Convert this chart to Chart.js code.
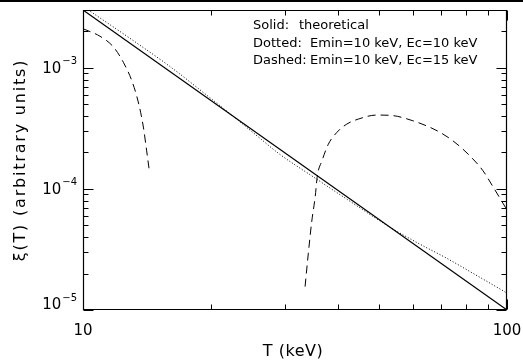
<!DOCTYPE html>
<html><head><meta charset="utf-8">
<script src="https://cdn.jsdelivr.net/npm/chart.js@4.4.0/dist/chart.umd.min.js"></script>
<style>
html,body{margin:0;padding:0;background:#fff;}
canvas{display:block;}
</style></head><body>
<canvas id="c" width="523" height="364"></canvas>
<script>
// ---- data ----
const solidT  = [10, 100];
const solidXi = [3.0e-3, 1.0e-5];

const dottedT  = [10, 13, 16, 20, 22.6, 26, 29, 35, 42, 53, 62, 72, 85, 100];
const dottedXi = [3.21e-3, 1.72e-3, 1.03e-3, 5.60e-4, 3.98e-4, 2.66e-4, 1.95e-4, 1.25e-4, 8.18e-5, 4.82e-5, 3.53e-5, 2.68e-5, 1.92e-5, 1.38e-5];

const dashedLowT  = [10, 10.97, 11.79, 12.45, 13.03, 13.5, 13.88, 14.13, 14.31];
const dashedLowXi = [2.1e-3, 1.82e-3, 1.49e-3, 1.11e-3, 7.85e-4, 5.22e-4, 3.24e-4, 2.06e-4, 1.48e-4];

const dashedHighT  = [33.4, 34.0, 34.6, 35.3, 35.7, 36.6, 37.9, 39.7, 41.9, 44.6, 49.3, 53.0, 60.0, 68.4, 74.6, 81.8, 87.8, 92.7, 100];
const dashedHighXi = [1.56e-5, 2.95e-5, 5.24e-5, 8.71e-5, 1.28e-4, 1.70e-4, 2.34e-4, 2.93e-4, 3.43e-4, 3.77e-4, 4.07e-4, 4.05e-4, 3.65e-4, 3.02e-4, 2.49e-4, 1.87e-4, 1.41e-4, 1.04e-4, 6.7e-5];

const xMajorTicks = [10, 100];
const xMinorTicks = [20, 30, 40, 50, 60, 70, 80, 90];
const yMajorExp   = [-5, -4, -3];
const xRange = [10, 100];
const yRange = [1e-5, 3e-3];

const legendLines = [
  ["Solid:", "theoretical"],
  ["Dotted:", "Emin=10 keV, Ec=10 keV"],
  ["Dashed:", "Emin=10 keV, Ec=15 keV"]
];
const xTitle = "T (keV)";
const yTitle = "\u03BE(T) (arbitrary units)";

// ---- build chart ----
const pts = (xs, ys) => xs.map((x, i) => ({x: x, y: ys[i]}));
const FONT = "'DejaVu Sans', sans-serif";

const framePlugin = {
  id: 'frame',
  afterDraw(chart) {
    const ctx = chart.ctx;
    const a = chart.chartArea;
    const xs = chart.scales.x, ys = chart.scales.y;
    ctx.save();
    ctx.fillStyle = '#000';
    ctx.fillRect(0, 0, chart.width, 2);
    ctx.strokeStyle = '#000';
    ctx.lineWidth = 1.2;
    const L = Math.round(a.left) + 0.5, R = Math.round(a.right) - 0.5;
    const T = Math.round(a.top) + 0.5, B = Math.round(a.bottom) - 0.5;
    ctx.beginPath();
    ctx.moveTo(L, T); ctx.lineTo(R, T); ctx.lineTo(R, B); ctx.lineTo(L, B); ctx.closePath();
    ctx.stroke();
    ctx.lineWidth = 1;
    const xt = (v, len) => {
      const px = Math.round(xs.getPixelForValue(v)) + 0.5;
      ctx.beginPath();
      ctx.moveTo(px, B); ctx.lineTo(px, B - len);
      ctx.moveTo(px, T); ctx.lineTo(px, T + len);
      ctx.stroke();
    };
    xMajorTicks.forEach(v => xt(v, 10));
    xMinorTicks.forEach(v => xt(v, 5));
    const yt = (v, len) => {
      const py = Math.round(ys.getPixelForValue(v)) + 0.5;
      ctx.beginPath();
      ctx.moveTo(L, py); ctx.lineTo(L + len, py);
      ctx.moveTo(R, py); ctx.lineTo(R - len, py);
      ctx.stroke();
    };
    yMajorExp.forEach(e => {
      yt(Math.pow(10, e), 10);
      for (let m = 2; m <= 9; m++) {
        const v = m * Math.pow(10, e);
        if (v <= yRange[1] * 1.0001) yt(v, 5);
      }
    });
    ctx.fillStyle = '#000';
    ctx.font = "15px " + FONT;
    ctx.textAlign = 'center';
    ctx.textBaseline = 'middle';
    xMajorTicks.forEach(v => {
      ctx.fillText(String(v), xs.getPixelForValue(v), 331);
    });
    yMajorExp.forEach((e, i) => {
      const py = ys.getPixelForValue(Math.pow(10, e));
      const cy = (i === 0) ? py - 5 : py + 1;
      const sup = "\u2212" + String(-e);
      ctx.font = "15px " + FONT;
      const w1 = ctx.measureText("10").width;
      ctx.font = "10px " + FONT;
      const w2 = ctx.measureText(sup).width;
      const x0 = 77 - w1 - w2 - 1;
      ctx.textAlign = 'left';
      ctx.font = "15px " + FONT;
      ctx.fillText("10", x0, cy);
      ctx.font = "10px " + FONT;
      ctx.fillText(sup, x0 + w1 + 1, cy - 7);
    });
    // axis titles
    ctx.font = "16px " + FONT;
    ctx.textAlign = 'center';
    ctx.letterSpacing = '0.5px';
    ctx.fillText(xTitle, 293, 352);
    ctx.save();
    ctx.translate(21, 160);
    ctx.rotate(-Math.PI / 2);
    ctx.font = "16px " + FONT;
    ctx.letterSpacing = '1.8px';
    ctx.fillText(yTitle, 0, 0);
    ctx.restore();
    ctx.letterSpacing = '0px';
    // legend text
    ctx.font = "13px " + FONT;
    ctx.textAlign = 'left';
    const ly = [26, 44, 61];
    const lx2 = [299, 310, 310];
    legendLines.forEach((ln, i) => {
      ctx.fillText(ln[0], 253, ly[i]);
      ctx.fillText(ln[1], lx2[i], ly[i]);
    });
    ctx.restore();
  }
};

new Chart(document.getElementById('c'), {
  type: 'line',
  data: {
    datasets: [
      { label: 'Solid: theoretical', data: pts(solidT, solidXi), borderColor: '#000', borderWidth: 1.2, pointRadius: 0, fill: false },
      { label: 'Dotted: Emin=10 keV, Ec=10 keV', data: pts(dottedT, dottedXi), borderColor: '#000', borderWidth: 1, borderDash: [1, 2], pointRadius: 0, fill: false, cubicInterpolationMode: 'monotone' },
      { label: 'Dashed: Emin=10 keV, Ec=15 keV', data: pts(dashedLowT, dashedLowXi), borderColor: '#000', borderWidth: 1, borderDash: [8, 5], pointRadius: 0, fill: false, cubicInterpolationMode: 'monotone' },
      { label: 'Dashed (high T)', data: pts(dashedHighT, dashedHighXi), borderColor: '#000', borderWidth: 1, borderDash: [8, 5], pointRadius: 0, fill: false, cubicInterpolationMode: 'monotone' }
    ]
  },
  options: {
    responsive: false,
    animation: false,
    devicePixelRatio: 1,
    layout: { padding: { top: 10, right: 16, left: 0, bottom: 0 } },
    plugins: { legend: { display: false }, tooltip: { enabled: false }, title: { display: false } },
    scales: {
      x: {
        type: 'logarithmic', min: xRange[0], max: xRange[1],
        grid: { display: false }, border: { display: false },
        ticks: { display: false },
        afterFit: s => { s.height = 54; }
      },
      y: {
        type: 'logarithmic', min: yRange[0], max: yRange[1],
        grid: { display: false }, border: { display: false },
        ticks: { display: false },
        afterFit: s => { s.width = 83; }
      }
    }
  },
  plugins: [framePlugin]
});
</script>
</body></html>
